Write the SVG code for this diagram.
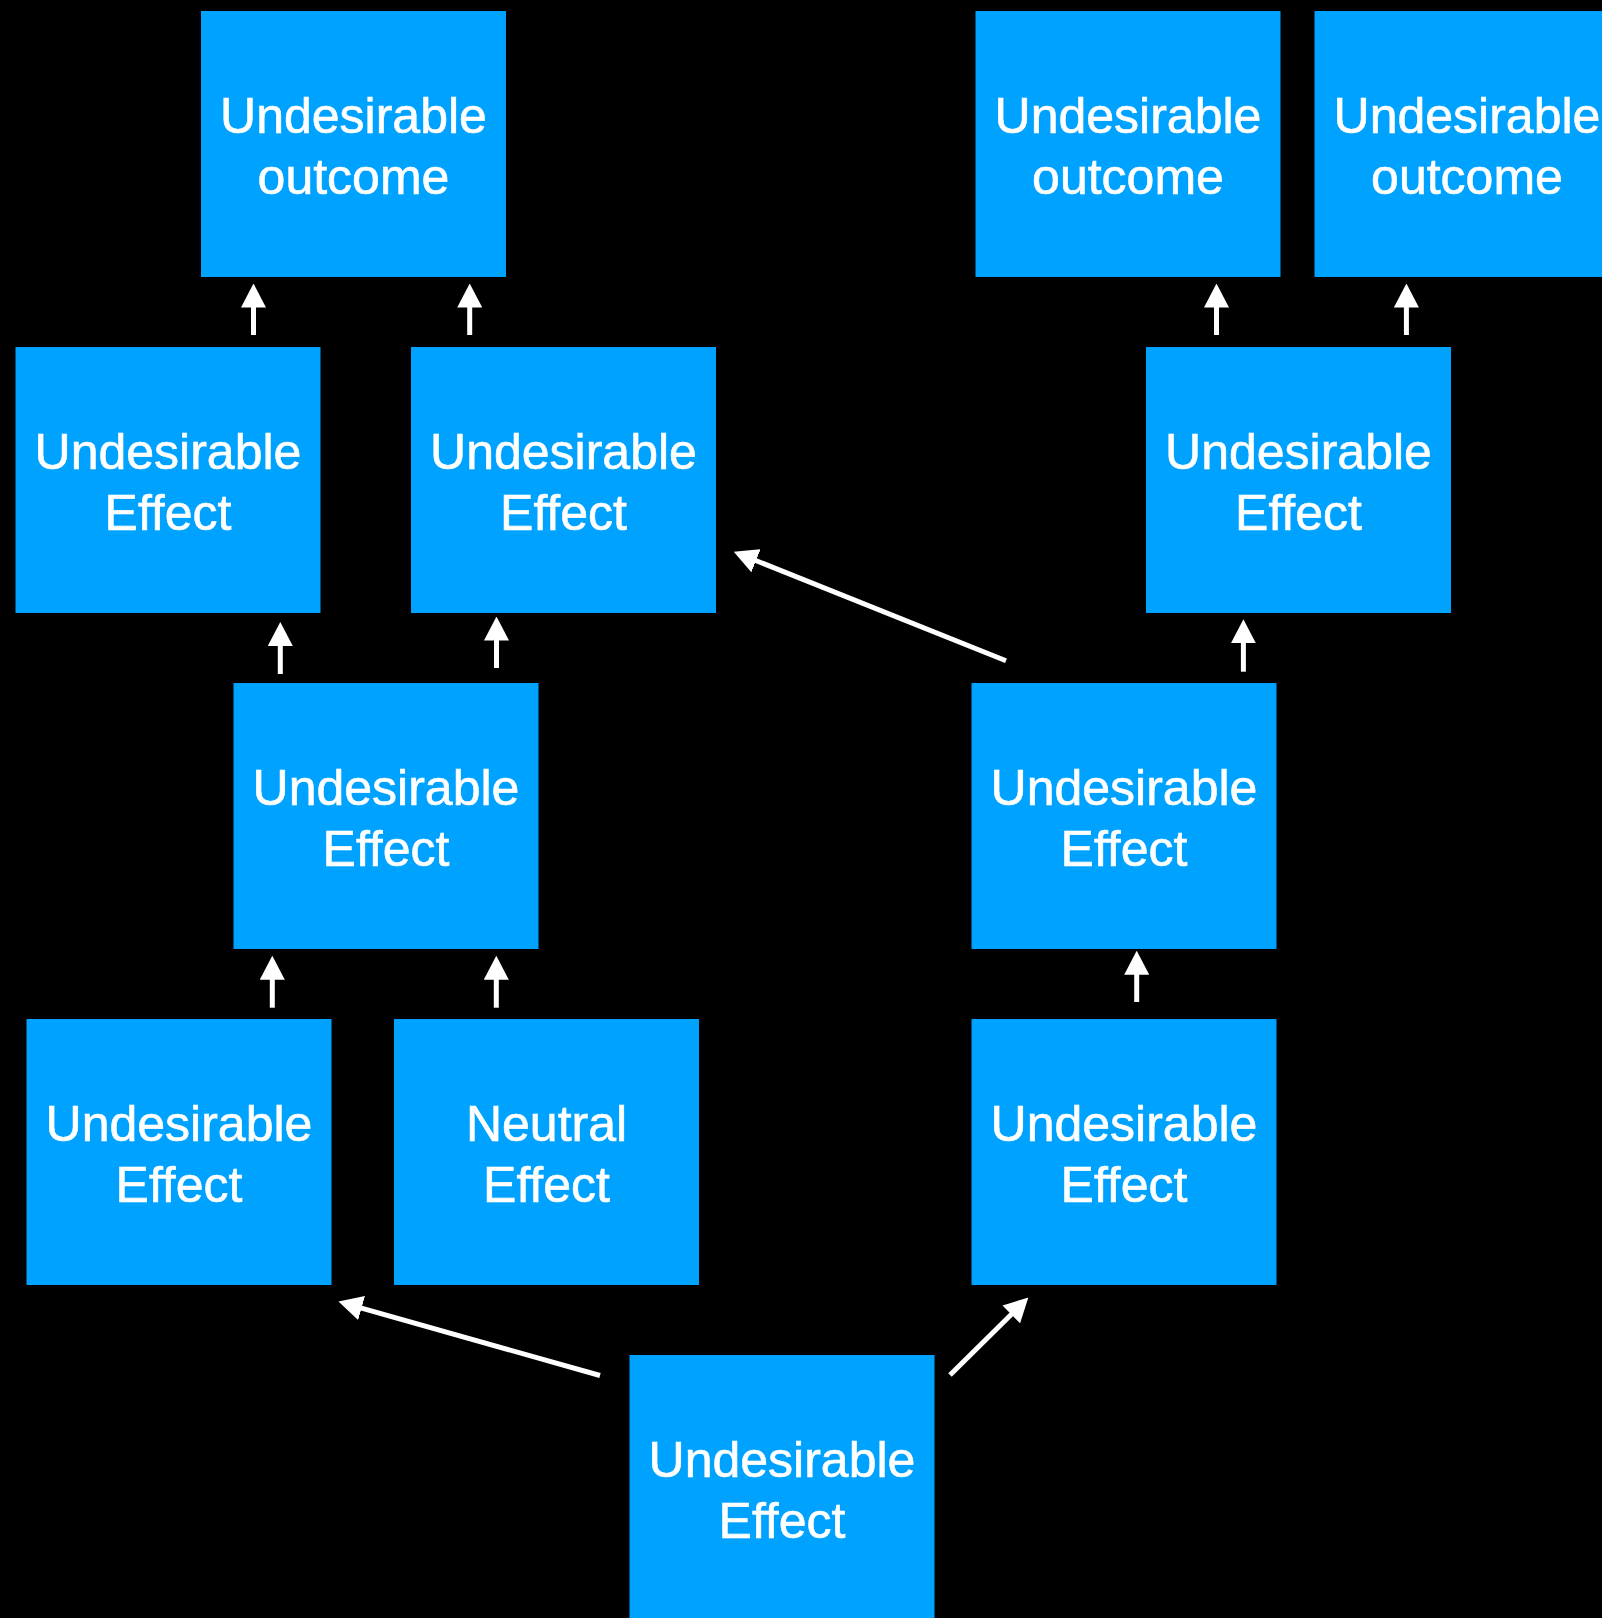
<svg xmlns="http://www.w3.org/2000/svg" width="1602" height="1618" viewBox="0 0 1602 1618">
  <style>
    .box { fill: #00A2FF; }
    .label { font-family: "Liberation Sans", Arial, Helvetica, sans-serif; font-size: 50px; fill: #FFFFFF; text-anchor: middle; stroke: #FFFFFF; stroke-width: 0.6; }
    .link { stroke: #FFFFFF; stroke-width: 5; fill: none; marker-end: url(#head); }
  </style>
  <defs>
    <marker id="head" viewBox="0 0 24 25" refX="1" refY="12.5" markerWidth="24" markerHeight="25" markerUnits="userSpaceOnUse" orient="auto">
      <path d="M0,0 L24,12.5 L0,25 Z" fill="#FFFFFF"/>
    </marker>
  </defs>
  <rect width="1602" height="1618" fill="#000000"/>

  <!-- top row: outcomes -->
  <g id="outcome-a">
    <rect class="box" x="201" y="11" width="305" height="266"/>
    <text class="label" x="353.5" y="133">Undesirable</text>
    <text class="label" x="353.5" y="194">outcome</text>
  </g>
  <g id="outcome-b">
    <rect class="box" x="975.5" y="11" width="305" height="266"/>
    <text class="label" x="1128" y="133">Undesirable</text>
    <text class="label" x="1128" y="194">outcome</text>
  </g>
  <g id="outcome-c">
    <rect class="box" x="1314.5" y="11" width="305" height="266"/>
    <text class="label" x="1467" y="133">Undesirable</text>
    <text class="label" x="1467" y="194">outcome</text>
  </g>

  <!-- second row -->
  <g id="effect-d">
    <rect class="box" x="15.5" y="347" width="305" height="266"/>
    <text class="label" x="168" y="469">Undesirable</text>
    <text class="label" x="168" y="530">Effect</text>
  </g>
  <g id="effect-e">
    <rect class="box" x="411" y="347" width="305" height="266"/>
    <text class="label" x="563.5" y="469">Undesirable</text>
    <text class="label" x="563.5" y="530">Effect</text>
  </g>
  <g id="effect-f">
    <rect class="box" x="1146" y="347" width="305" height="266"/>
    <text class="label" x="1298.5" y="469">Undesirable</text>
    <text class="label" x="1298.5" y="530">Effect</text>
  </g>

  <!-- third row -->
  <g id="effect-g">
    <rect class="box" x="233.5" y="683" width="305" height="266"/>
    <text class="label" x="386" y="805">Undesirable</text>
    <text class="label" x="386" y="866">Effect</text>
  </g>
  <g id="effect-h">
    <rect class="box" x="971.5" y="683" width="305" height="266"/>
    <text class="label" x="1124" y="805">Undesirable</text>
    <text class="label" x="1124" y="866">Effect</text>
  </g>

  <!-- fourth row -->
  <g id="effect-i">
    <rect class="box" x="26.5" y="1019" width="305" height="266"/>
    <text class="label" x="179" y="1141">Undesirable</text>
    <text class="label" x="179" y="1202">Effect</text>
  </g>
  <g id="effect-j">
    <rect class="box" x="394" y="1019" width="305" height="266"/>
    <text class="label" x="546.5" y="1141">Neutral</text>
    <text class="label" x="546.5" y="1202">Effect</text>
  </g>
  <g id="effect-k">
    <rect class="box" x="971.5" y="1019" width="305" height="266"/>
    <text class="label" x="1124" y="1141">Undesirable</text>
    <text class="label" x="1124" y="1202">Effect</text>
  </g>

  <!-- root -->
  <g id="effect-l">
    <rect class="box" x="629.5" y="1355" width="305" height="266"/>
    <text class="label" x="782" y="1477">Undesirable</text>
    <text class="label" x="782" y="1538">Effect</text>
  </g>

  <!-- cause-and-effect links -->
  <g id="connectors">
    <line class="link" x1="253.5" y1="335" x2="253.5" y2="306.5"/>
    <line class="link" x1="469.7" y1="335" x2="469.7" y2="306.5"/>
    <line class="link" x1="1216.5" y1="335" x2="1216.5" y2="306.5"/>
    <line class="link" x1="1406.4" y1="335" x2="1406.4" y2="306.5"/>
    <line class="link" x1="280.3" y1="674" x2="280.3" y2="645"/>
    <line class="link" x1="496.5" y1="668" x2="496.5" y2="639.5"/>
    <line class="link" x1="1243.4" y1="671.7" x2="1243.4" y2="642.3"/>
    <line class="link" x1="272.3" y1="1007.7" x2="272.3" y2="978.7"/>
    <line class="link" x1="496.3" y1="1007.7" x2="496.3" y2="978.7"/>
    <line class="link" x1="1136.7" y1="1002" x2="1136.7" y2="973.7"/>
    <line class="link" x1="1006" y1="660.7" x2="755.1" y2="560.3"/>
    <line class="link" x1="600" y1="1375.5" x2="360.6" y2="1307.8"/>
    <line class="link" x1="950" y1="1375" x2="1012" y2="1313.7"/>
  </g>
</svg>
